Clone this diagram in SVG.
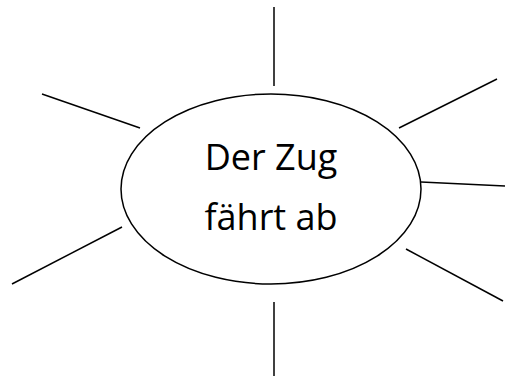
<svg xmlns="http://www.w3.org/2000/svg" width="513" height="376" viewBox="0 0 513 376">
<style>
.ln{stroke:#000;stroke-width:1.5;fill:none}
.t{font-family:"Open Sans","Liberation Sans",sans-serif;font-size:36px;fill:#000;text-anchor:middle}
</style>
<rect width="513" height="376" fill="#fff"/>
<g id="connectors">
<line class="ln" x1="274" y1="7" x2="274" y2="86"/>
<line class="ln" x1="42" y1="94" x2="140" y2="128"/>
<line class="ln" x1="399" y1="128" x2="497" y2="79"/>
<line class="ln" x1="421" y1="182" x2="505" y2="186"/>
<line class="ln" x1="122" y1="227" x2="12" y2="284"/>
<line class="ln" x1="406" y1="249" x2="503" y2="301"/>
<line class="ln" x1="274" y1="302" x2="274" y2="376"/>
</g>
<g id="center">
<ellipse class="ln" cx="271" cy="189" rx="150" ry="95"/>
<text class="t" x="271" y="170">Der Zug</text>
<text class="t" x="271" y="230">fährt ab</text>
</g>
</svg>
